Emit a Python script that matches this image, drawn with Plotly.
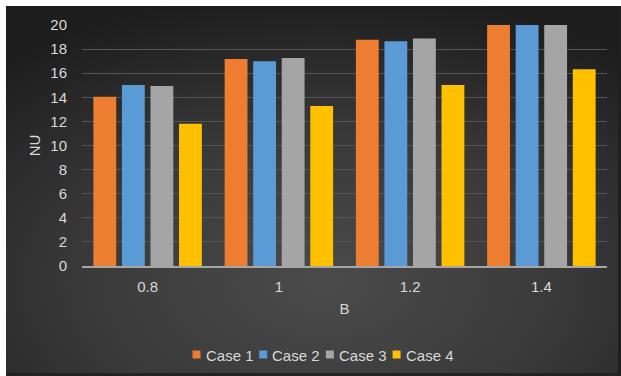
import base64
import plotly.graph_objects as go

categories = ["0.8", "1", "1.2", "1.4"]
case1 = [14.05, 17.18, 18.78, 20.0]
case2 = [15.02, 16.99, 18.65, 20.0]
case3 = [14.94, 17.26, 18.89, 20.0]
case4 = [11.81, 13.28, 15.02, 16.32]
series_names = ["Case 1", "Case 2", "Case 3", "Case 4"]
series_colors = ["#ED7D31", "#5B9BD5", "#A5A5A5", "#FFC000"]
y_ticks = [0, 2, 4, 6, 8, 10, 12, 14, 16, 18, 20]

W, H = 621, 376
ml, mr, mt, mb = 82, 14, 25, 110
pw, ph = W - ml - mr, H - mt - mb


def px_x(x):
    return (x - ml) / pw


def px_y(y):
    return (H - mb - y) / ph


# radial dark background as an SVG image
svg = (
    '<svg xmlns="http://www.w3.org/2000/svg" width="621" height="376" preserveAspectRatio="none">'
    '<defs><radialGradient id="g" cx="0.52" cy="0.75" r="0.78" gradientUnits="objectBoundingBox">'
    '<stop offset="0" stop-color="#4b4b4b"/><stop offset="0.5" stop-color="#393939"/>'
    '<stop offset="1" stop-color="#1d1d1d"/></radialGradient></defs>'
    '<rect width="621" height="376" fill="url(#g)"/></svg>'
)
src = "data:image/svg+xml;base64," + base64.b64encode(svg.encode()).decode()

fig = go.Figure()
for name, vals, col in zip(series_names, [case1, case2, case3, case4], series_colors):
    fig.add_trace(go.Bar(x=categories, y=vals, name=name,
                         marker=dict(color=col, line=dict(width=0))))

font = "Liberation Sans, Arial, sans-serif"
txt = "#d9d9d9"
fs = 15

# legend drawn as annotations (compact Excel-style legend)
annotations = []
leg_x0, leg_step, leg_y = 192.5, 66.7, 355
for i, (name, col) in enumerate(zip(series_names, series_colors)):
    sx = leg_x0 + i * leg_step
    annotations.append(dict(
        xref="paper", yref="paper", x=px_x(sx + 11), y=px_y(leg_y),
        xanchor="left", yanchor="middle", showarrow=False,
        text=name, font=dict(family=font, size=fs, color=txt)))

shapes = []
for i, col in enumerate(series_colors):
    sx = leg_x0 + i * leg_step
    shapes.append(dict(type="rect", xref="paper", yref="paper",
                       x0=px_x(sx), x1=px_x(sx + 8), y0=px_y(leg_y + 3.5), y1=px_y(leg_y - 4.5),
                       fillcolor=col, line=dict(width=0), layer="above"))

# white frame strips at top and left (as in the source screenshot)
shapes.append(dict(type="rect", xref="paper", yref="paper", x0=px_x(-5), x1=px_x(W + 5),
                   y0=px_y(6), y1=px_y(-5), fillcolor="white", line=dict(width=0), layer="below"))
shapes.append(dict(type="rect", xref="paper", yref="paper", x0=px_x(-5), x1=px_x(6),
                   y0=px_y(H + 5), y1=px_y(-5), fillcolor="white", line=dict(width=0), layer="below"))
# dark edges at right and bottom
shapes.append(dict(type="rect", xref="paper", yref="paper", x0=px_x(W - 3), x1=px_x(W + 5),
                   y0=px_y(H + 5), y1=px_y(6), fillcolor="#1f1f1f", line=dict(width=0), layer="below"))
shapes.append(dict(type="rect", xref="paper", yref="paper", x0=px_x(6), x1=px_x(W + 5),
                   y0=px_y(H + 5), y1=px_y(H - 3), fillcolor="#232323", line=dict(width=0), layer="below"))

fig.update_layout(
    width=W, height=H,
    margin=dict(l=ml, r=mr, t=mt, b=mb, autoexpand=False),
    paper_bgcolor="#262626",
    plot_bgcolor="rgba(0,0,0,0)",
    barmode="group",
    bargap=0.13,
    bargroupgap=0.2,
    font=dict(family=font, color=txt, size=fs),
    images=[dict(source=src, xref="paper", yref="paper", x=px_x(0), y=px_y(0),
                 sizex=W / pw, sizey=H / ph, sizing="stretch",
                 layer="below", xanchor="left", yanchor="top")],
    xaxis=dict(type="category", showgrid=False, showline=True, linecolor="#a6a6a6",
               linewidth=1.5, ticks="", tickfont=dict(size=fs, color=txt),
               ticklabelstandoff=6,
               title=dict(text="B", font=dict(size=fs, color=txt), standoff=10)),
    yaxis=dict(range=[0, 20], tickvals=y_ticks, showgrid=True, gridcolor="#555555",
               gridwidth=1, zeroline=False, showline=False, ticks="",
               tickfont=dict(size=fs, color=txt), ticklabelstandoff=14,
               title=dict(text="NU", font=dict(size=fs, color=txt), standoff=6)),
    showlegend=False,
    annotations=annotations,
    shapes=shapes,
)

fig.write_html("out.html")
